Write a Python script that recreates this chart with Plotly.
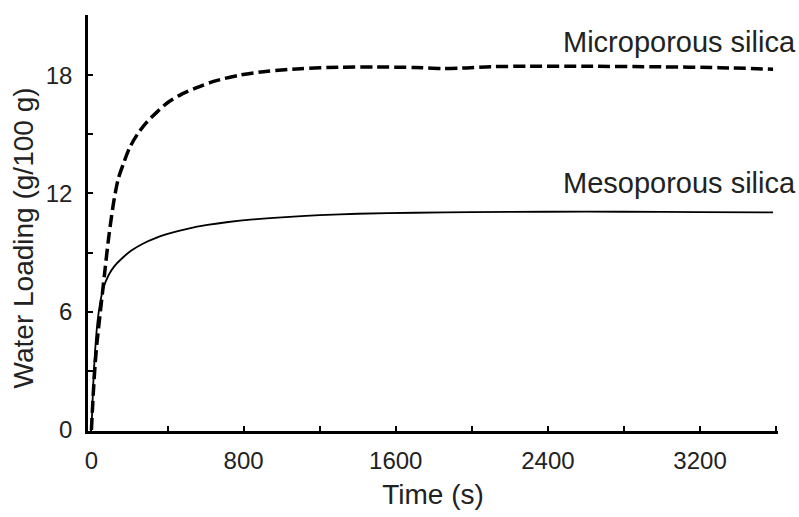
import plotly.graph_objects as go

# Time (s)
t_micro = [0, 10, 20, 30, 47, 70, 90, 116, 140, 168, 200, 242, 290, 347, 400, 468, 550, 642,
           780, 926, 1100, 1300, 1500, 1700, 1850, 1950, 2100, 2300, 2600, 3000, 3300, 3584]
# Water loading (g/100 g), microporous silica
y_micro = [0, 1.9, 3.4, 4.5, 6.0, 8.0, 9.7, 11.5, 12.7, 13.5, 14.3, 15.0, 15.6, 16.15, 16.6, 17.0,
           17.35, 17.68, 18.0, 18.2, 18.33, 18.4, 18.41, 18.39, 18.34, 18.36, 18.43, 18.45, 18.45, 18.42, 18.38, 18.3]

t_meso = [0, 10, 20, 32, 45, 63, 90, 120, 160, 210, 270, 340, 420, 510, 610, 720, 850, 1000, 1200,
          1400, 1700, 2000, 2400, 2800, 3200, 3584]
y_meso = [0, 2.4, 4.1, 5.5, 6.4, 7.2, 7.85, 8.3, 8.7, 9.1, 9.45, 9.75, 10.0, 10.22, 10.4, 10.55, 10.68,
          10.79, 10.9, 10.97, 11.02, 11.05, 11.07, 11.07, 11.05, 11.04]

series_labels = ["Microporous silica", "Mesoporous silica"]
label_y = [19.7, 12.55]

x_ticks = [0, 800, 1600, 2400, 3200]
y_ticks = [0, 6, 12, 18]

FONT = "Liberation Sans, Arial, sans-serif"
TXT = "#222222"

fig = go.Figure()
fig.add_trace(go.Scatter(x=t_micro, y=y_micro, mode="lines", name=series_labels[0],
                         line=dict(color="black", width=3.5, dash="12px,5px", shape="spline", smoothing=0.8)))
fig.add_trace(go.Scatter(x=t_meso, y=y_meso, mode="lines", name=series_labels[1],
                         line=dict(color="black", width=1.8, shape="spline", smoothing=0.8)))

for lab, yy in zip(series_labels, label_y):
    fig.add_annotation(x=1, xref="paper", y=yy, yref="y", text=lab, showarrow=False,
                       xanchor="right", yanchor="middle", xshift=20,
                       font=dict(family=FONT, size=29, color=TXT))

# y-axis title (placed slightly below the plot centre, as in the reference)
fig.add_annotation(x=0, xref="paper", y=0.463, yref="paper", text="Water Loading (g/100 g)",
                   showarrow=False, textangle=-90, xanchor="center", yanchor="middle", xshift=-65,
                   font=dict(family=FONT, size=28, color=TXT))

fig.update_layout(
    width=799, height=517,
    margin=dict(l=88, r=21, t=15, b=81),
    paper_bgcolor="white", plot_bgcolor="white",
    showlegend=False,
    font=dict(family=FONT, color=TXT),
)
fig.update_xaxes(
    range=[-18, 3610], tickvals=x_ticks, ticktext=[str(v) for v in x_ticks],
    showgrid=False, zeroline=False, showline=True, linecolor="black", linewidth=2.5,
    ticks="inside", ticklen=5, tickwidth=2, tickcolor="black",
    minor=dict(dtick=400, tick0=0, ticks="inside", ticklen=5, tickwidth=2, tickcolor="black", showgrid=False),
    tickfont=dict(family=FONT, size=24, color=TXT), ticklabelstandoff=6,
    title=dict(text="Time (s)", font=dict(family=FONT, size=28, color=TXT), standoff=12),
)
fig.update_yaxes(
    range=[-0.05, 21.05], tickvals=y_ticks, ticktext=[str(v) for v in y_ticks],
    showgrid=False, zeroline=False, showline=True, linecolor="black", linewidth=2.5,
    ticks="inside", ticklen=5, tickwidth=2, tickcolor="black",
    minor=dict(dtick=3, tick0=0, ticks="inside", ticklen=5, tickwidth=2, tickcolor="black", showgrid=False),
    tickfont=dict(family=FONT, size=24, color=TXT), ticklabelstandoff=8,
)

fig.write_html("out.html")
